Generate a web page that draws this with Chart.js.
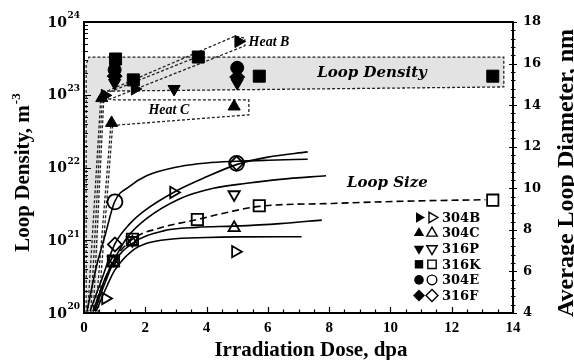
<!DOCTYPE html>
<html>
<head>
<meta charset="utf-8">
<script src="https://cdn.jsdelivr.net/npm/chart.js@4.4.1/dist/chart.umd.min.js"></script>
<style>
  html, body { margin: 0; padding: 0; background: #fff; }
  #wrap { width: 574px; height: 360px; }
</style>
</head>
<body>
<div id="wrap"><canvas id="chart" width="574" height="360"></canvas></div>
<script>
// alloys and their marker shapes
const alloys = ['304B', '304C', '316P', '316K', '304E', '316F'];
const shapes = ['triangle', 'triangle', 'triangle', 'rect', 'circle', 'rectRot'];
const rotations = [90, 0, 180, 0, 0, 0];
const radii = [7, 7, 7, 8.5, 6.5, 7.5];

// loop density, m^-3 (filled markers, left axis) : [dose dpa, density]
const density304B = [[0.68, 9.8e22], [1.66, 1.2e23], [5.04, 5.4e23]];
const density304C = [[0.58, 9.0e22], [0.9, 4.1e22], [4.9, 6.9e22]];
const density316P = [[1.0, 1.45e23], [2.94, 1.2e23], [5.0, 1.45e23]];
const density316K = [[1.03, 3.1e23], [1.61, 1.6e23], [3.73, 3.3e23], [5.72, 1.8e23], [13.34, 1.8e23]];
const density304E = [[1.0, 2.2e23], [5.0, 2.35e23]];
const density316F = [[1.0, 1.8e23], [5.0, 1.75e23]];

// average loop diameter, nm (open markers, right axis)
const size304B = [[0.7, 4.7], [2.92, 9.8], [4.94, 6.95]];
const size304C = [[0.96, 6.45], [1.58, 7.4], [4.9, 8.1]];
const size316P = [[0.96, 6.55], [1.58, 7.5], [4.9, 9.7]];
const size316K = [[0.96, 6.5], [1.58, 7.55], [3.7, 8.5], [5.72, 9.16], [13.34, 9.43]];
const size304E = [[1.01, 9.35], [4.98, 11.2]];
const size316F = [[1.01, 7.3], [4.98, 11.2]];

// fitted loop size curves
const fit304E = [[0.1, 4.1], [0.4, 6.2], [0.7, 7.8], [1.0, 9.35], [1.5, 10.1], [2.04, 10.6], [3.13, 11.05], [4.0, 11.22], [5.0, 11.3], [6.0, 11.35], [7.3, 11.4]];
const fit316F = [[0.2, 4.1], [0.55, 5.5], [1.0, 7.3], [1.5, 8.3], [2.0, 8.95], [2.92, 9.8], [4.0, 10.55], [5.0, 11.15], [6.0, 11.5], [7.3, 11.75]];
const fit316P = [[0.3, 4.1], [0.7, 5.7], [1.0, 6.6], [1.39, 7.6], [2.05, 8.55], [3.13, 9.5], [4.22, 10.0], [5.31, 10.24], [6.4, 10.43], [7.9, 10.6]];
const fit316K = [[0.3, 4.1], [0.65, 5.5], [0.96, 6.5], [1.58, 7.55], [2.5, 8.1], [3.7, 8.5], [4.7, 8.85], [5.72, 9.13], [8.1, 9.27], [10.5, 9.38], [13.1, 9.45]];
const fit304C = [[0.35, 4.1], [0.7, 5.5], [0.96, 6.4], [1.58, 7.35], [2.59, 7.95], [3.68, 8.12], [4.9, 8.18], [6.4, 8.3], [7.76, 8.47]];
const fit304B = [[0.4, 4.1], [0.75, 5.3], [1.0, 6.05], [1.58, 7.0], [2.05, 7.35], [2.81, 7.55], [4.0, 7.63], [5.0, 7.66], [7.1, 7.67]];

// dashed guides on the density side (dose, density)
const densityBand = [[0.07, 1e20], [0.07, 2.6e23], [0.16, 3.3e23], [13.7, 3.3e23], [13.7, 1.28e23], [0.55, 1.12e23], [0.42, 1e20]];
const heatB = [[0.62, 1.06e23], [4.93, 6.4e23], [5.25, 6.0e23], [5.25, 4.7e23], [0.85, 8.7e22]];
const heatB316K = [[0.85, 1.1e23], [3.68, 3.3e23]];
const heatC = [[0.62, 9.0e22], [1.0, 8.5e22], [5.38, 8.5e22], [5.38, 5.3e22], [0.98, 3.8e22]];
const fanLines = [
  [[0.12, 1e20], [0.55, 9.3e22]],
  [[0.22, 1e20], [0.6, 9.3e22]],
  [[0.3, 1e20], [0.65, 9.3e22]],
  [[0.38, 1e20], [0.88, 4.0e22]],
  [[0.46, 1e20], [0.94, 4.0e22]]
];

// text annotations (dose, value)
const labelLoopDensity = [9.4, 2.0e23];
const labelLoopSize = [9.9, 10.25];
const labelHeatB = [5.37, 5.3e23];
const labelHeatC = [2.77, 6.0e22];

const xTicks = [0, 2, 4, 6, 8, 10, 12, 14];
const yDecades = [20, 21, 22, 23, 24];
const y2Ticks = [4, 6, 8, 10, 12, 14, 16, 18];

const toXY = pts => pts.map(p => ({x: p[0], y: p[1]}));

const densitySets = [density304B, density304C, density316P, density316K, density304E, density316F];
const sizeSets = [size304B, size304C, size316P, size316K, size304E, size316F];
const fitSets = [fit304B, fit304C, fit316P, fit316K, fit304E, fit316F];

let datasets = [];
alloys.forEach((name, i) => {
  datasets.push({
    label: name + ' density', data: toXY(densitySets[i]), yAxisID: 'y', order: 0,
    pointStyle: shapes[i], rotation: rotations[i], pointRadius: radii[i],
    pointBackgroundColor: '#000', pointBorderColor: '#000', pointBorderWidth: 1
  });
  datasets.push({
    label: name + ' size', data: toXY(sizeSets[i]), yAxisID: 'y2', order: 0,
    pointStyle: shapes[i], rotation: rotations[i], pointRadius: shapes[i] == 'circle' ? 7.5 : radii[i] - 0.5,
    pointBackgroundColor: 'rgba(255,255,255,0)', pointBorderColor: '#000', pointBorderWidth: 1.8
  });
  datasets.push({
    label: name + ' fit', data: toXY(fitSets[i]), yAxisID: 'y2', order: 1,
    showLine: true, pointRadius: 0, borderColor: '#000', borderWidth: 1.6,
    borderDash: name == '316K' ? [7, 4] : [], cubicInterpolationMode: 'monotone'
  });
});

const guideStyle = {yAxisID: 'y', order: 2, showLine: true, pointRadius: 0, borderColor: '#222', borderWidth: 1.3, borderDash: [3, 2], tension: 0};
datasets.push(Object.assign({label: 'band', data: toXY(densityBand.slice(0, 6))}, guideStyle));
datasets.push(Object.assign({label: 'heat B', data: toXY(heatB)}, guideStyle));
datasets.push(Object.assign({label: 'heat B 316K', data: toXY(heatB316K)}, guideStyle));
datasets.push(Object.assign({label: 'heat C', data: toXY(heatC)}, guideStyle));
fanLines.forEach((f, i) => datasets.push(Object.assign({label: 'fan ' + i, data: toXY(f)}, guideStyle)));

function marker(ctx, shape, rot, r, x, y, filled) {
  ctx.save();
  ctx.translate(x, y);
  ctx.rotate(rot * Math.PI / 180);
  ctx.beginPath();
  if (shape == 'triangle') {
    ctx.moveTo(0, -r); ctx.lineTo(r * 0.866, r * 0.5); ctx.lineTo(-r * 0.866, r * 0.5);
  } else if (shape == 'rect') {
    ctx.rect(-r * 0.7, -r * 0.7, r * 1.4, r * 1.4);
  } else if (shape == 'rectRot') {
    ctx.moveTo(0, -r); ctx.lineTo(r, 0); ctx.lineTo(0, r); ctx.lineTo(-r, 0);
  } else {
    ctx.arc(0, 0, r * 0.8, 0, Math.PI * 2);
  }
  ctx.closePath();
  if (filled) { ctx.fillStyle = '#000'; ctx.fill(); }
  else { ctx.lineWidth = 1.4; ctx.strokeStyle = '#000'; ctx.stroke(); }
  ctx.restore();
}

const decor = {
  id: 'decor',
  beforeDatasetsDraw(chart) {
    const {ctx, scales: {x, y}} = chart;
    ctx.save();
    ctx.beginPath();
    densityBand.forEach((p, i) => {
      const px = x.getPixelForValue(p[0]), py = y.getPixelForValue(p[1]);
      if (i) ctx.lineTo(px, py); else ctx.moveTo(px, py);
    });
    ctx.closePath();
    ctx.fillStyle = '#e3e3e3';
    ctx.fill();
    ctx.restore();
  },
  afterDraw(chart) {
    const {ctx, chartArea: a, scales: {x, y, y2}} = chart;
    ctx.save();
    ctx.strokeStyle = '#000';
    ctx.fillStyle = '#000';

    // frame
    ctx.lineWidth = 2;
    ctx.strokeRect(a.left, a.top, a.right - a.left, a.bottom - a.top);

    // ticks
    ctx.lineWidth = 1.2;
    ctx.beginPath();
    for (let n = 20; n < 24; n++) {
      for (let k = 1; k < 10; k++) {
        const py = Math.round(y.getPixelForValue(k * Math.pow(10, n))) + 0.5;
        ctx.moveTo(a.left, py); ctx.lineTo(a.left + (k == 1 ? 7 : 4), py);
      }
    }
    for (let v = 0; v <= 14; v += 0.5) {
      const px = Math.round(x.getPixelForValue(v)) + 0.5;
      ctx.moveTo(px, a.bottom); ctx.lineTo(px, a.bottom - (v % 2 == 0 ? 6 : 3.5));
    }
    for (let i = 0; i <= 35; i++) {
      const v = 4 + i * 0.4;
      const py = Math.round(y2.getPixelForValue(v)) + 0.5;
      const major = i % 5 == 0;
      ctx.moveTo(a.right - (major ? 4 : 2), py); ctx.lineTo(a.right + (major ? 4 : 2.5), py);
    }
    ctx.stroke();

    // left tick labels 10^n
    yDecades.forEach(n => {
      const py = y.getPixelForValue(Math.pow(10, n));
      ctx.font = 'bold 14px "DejaVu Serif"';
      ctx.textAlign = 'right';
      ctx.textBaseline = 'middle';
      ctx.fillText('10', 67, py + 1);
      ctx.font = 'bold 9px "DejaVu Serif"';
      ctx.textAlign = 'left';
      ctx.fillText(String(n), 67.5, py - 6);
    });

    // axis titles
    ctx.font = 'bold 21px "Liberation Serif"';
    ctx.textAlign = 'center';
    ctx.textBaseline = 'alphabetic';
    ctx.fillText('Irradiation Dose, dpa', 311, 356);

    ctx.save();
    ctx.translate(29, 173);
    ctx.rotate(-Math.PI / 2);
    const main = 'Loop Density, m';
    const wMain = ctx.measureText(main).width;
    ctx.font = 'bold 13px "Liberation Serif"';
    const wSup = ctx.measureText('-3').width;
    const start = -(wMain + wSup) / 2;
    ctx.textAlign = 'left';
    ctx.font = 'bold 21px "Liberation Serif"';
    ctx.fillText(main, start, 0);
    ctx.font = 'bold 13px "Liberation Serif"';
    ctx.fillText('-3', start + wMain + 1, -9);
    ctx.restore();

    ctx.save();
    ctx.translate(573, 173);
    ctx.rotate(-Math.PI / 2);
    ctx.font = 'bold 24px "Liberation Serif"';
    ctx.textAlign = 'center';
    ctx.fillText('Average Loop Diameter, nm', 0, 0);
    ctx.restore();

    // annotations
    ctx.textBaseline = 'middle';
    ctx.textAlign = 'center';
    ctx.font = 'bold italic 15px "DejaVu Serif"';
    ctx.fillText('Loop Density', x.getPixelForValue(labelLoopDensity[0]), y.getPixelForValue(labelLoopDensity[1]));
    ctx.fillText('Loop Size', x.getPixelForValue(labelLoopSize[0]), y2.getPixelForValue(labelLoopSize[1]));
    ctx.font = 'bold italic 14px "Liberation Serif"';
    ctx.textAlign = 'left';
    ctx.fillText('Heat B', x.getPixelForValue(labelHeatB[0]), y.getPixelForValue(labelHeatB[1]));
    ctx.textAlign = 'center';
    ctx.fillText('Heat C', x.getPixelForValue(labelHeatC[0]), y.getPixelForValue(labelHeatC[1]));

    // legend
    ctx.font = 'bold 13px "DejaVu Serif"';
    ctx.textAlign = 'left';
    alloys.forEach((name, i) => {
      const ly = 217.5 + i * 15.6;
      marker(ctx, shapes[i], rotations[i], 6, 419, ly, true);
      marker(ctx, shapes[i], rotations[i], 6, 432, ly, false);
      ctx.fillStyle = '#000';
      ctx.fillText(name, 442, ly + 1);
    });
    ctx.restore();
  }
};

new Chart(document.getElementById('chart'), {
  type: 'scatter',
  data: {datasets: datasets},
  options: {
    responsive: false,
    animation: false,
    layout: {padding: {top: 22, left: 0, right: 0, bottom: 0}},
    plugins: {legend: {display: false}, tooltip: {enabled: false}},
    scales: {
      x: {
        type: 'linear', position: 'bottom', min: 0, max: 14,
        grid: {display: false, drawTicks: false}, border: {display: false},
        afterBuildTicks: s => { s.ticks = xTicks.map(v => ({value: v})); },
        ticks: {padding: 6, color: '#000', font: {family: 'Liberation Serif', weight: 'bold', size: 15}},
        afterFit: s => { s.height = 47; }
      },
      y: {
        type: 'logarithmic', position: 'left', min: 1e20, max: 1e24,
        grid: {display: false, drawTicks: false}, border: {display: false},
        ticks: {display: false},
        afterFit: s => { s.width = 84; }
      },
      y2: {
        type: 'linear', position: 'right', min: 4, max: 18,
        grid: {display: false, drawTicks: false}, border: {display: false},
        afterBuildTicks: s => { s.ticks = y2Ticks.map(v => ({value: v})); },
        ticks: {padding: 10, color: '#000', font: {family: 'DejaVu Serif', weight: 'bold', size: 13}},
        afterFit: s => { s.width = 61; }
      }
    }
  },
  plugins: [decor]
});
</script>
</body>
</html>
